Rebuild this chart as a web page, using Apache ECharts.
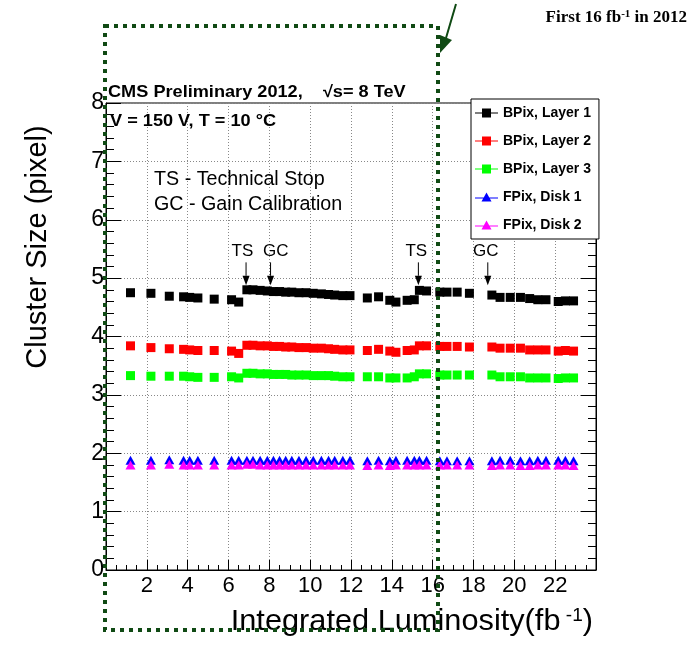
<!DOCTYPE html>
<html><head><meta charset="utf-8">
<script src="https://cdn.jsdelivr.net/npm/echarts@6/dist/echarts.min.js"></script>
<style>html,body{margin:0;padding:0;background:#fff}#c{width:691px;height:649px}</style>
</head><body><div id="c"></div>
<script>
// ---- data ----
const lumi = [1.2, 2.2, 3.1, 3.8, 4.1, 4.5, 5.3, 6.15, 6.5, 6.9, 7.2, 7.55, 7.9, 8.2, 8.5, 8.8, 9.1, 9.45, 9.8, 10.15, 10.55, 10.9, 11.2, 11.6, 11.95, 12.8, 13.35, 13.9, 14.2, 14.75, 15.1, 15.35, 15.7, 16.35, 16.7, 17.2, 17.8, 18.9, 19.3, 19.8, 20.3, 20.75, 21.15, 21.55, 22.15, 22.5, 22.9];
const bpixL1 = [4.75, 4.74, 4.69, 4.68, 4.67, 4.66, 4.64, 4.63, 4.59, 4.80, 4.80, 4.79, 4.78, 4.77, 4.77, 4.76, 4.76, 4.75, 4.75, 4.74, 4.73, 4.72, 4.71, 4.70, 4.70, 4.66, 4.68, 4.62, 4.59, 4.62, 4.63, 4.79, 4.78, 4.76, 4.76, 4.76, 4.74, 4.71, 4.67, 4.67, 4.67, 4.65, 4.63, 4.63, 4.60, 4.61, 4.61];
const bpixL2 = [3.84, 3.81, 3.79, 3.78, 3.77, 3.76, 3.76, 3.75, 3.71, 3.85, 3.85, 3.84, 3.84, 3.83, 3.83, 3.82, 3.82, 3.81, 3.81, 3.80, 3.80, 3.79, 3.78, 3.77, 3.77, 3.76, 3.78, 3.75, 3.73, 3.76, 3.77, 3.84, 3.84, 3.83, 3.83, 3.83, 3.82, 3.82, 3.80, 3.80, 3.80, 3.77, 3.77, 3.77, 3.75, 3.76, 3.75];
const bpixL3 = [3.33, 3.32, 3.32, 3.32, 3.31, 3.30, 3.30, 3.31, 3.29, 3.37, 3.37, 3.36, 3.36, 3.35, 3.35, 3.35, 3.34, 3.34, 3.34, 3.33, 3.33, 3.33, 3.32, 3.31, 3.31, 3.31, 3.31, 3.29, 3.29, 3.29, 3.31, 3.36, 3.36, 3.34, 3.34, 3.34, 3.34, 3.34, 3.31, 3.31, 3.31, 3.29, 3.29, 3.29, 3.28, 3.29, 3.29];
const fpixD1 = [1.88, 1.88, 1.89, 1.88, 1.88, 1.88, 1.88, 1.88, 1.88, 1.88, 1.88, 1.88, 1.88, 1.88, 1.88, 1.88, 1.88, 1.88, 1.88, 1.88, 1.88, 1.88, 1.88, 1.88, 1.88, 1.87, 1.88, 1.87, 1.88, 1.88, 1.88, 1.88, 1.88, 1.87, 1.87, 1.87, 1.87, 1.87, 1.88, 1.88, 1.87, 1.87, 1.88, 1.88, 1.88, 1.88, 1.87];
const fpixD2 = [1.80, 1.80, 1.81, 1.80, 1.80, 1.80, 1.80, 1.80, 1.80, 1.81, 1.81, 1.80, 1.80, 1.80, 1.80, 1.80, 1.80, 1.80, 1.80, 1.80, 1.80, 1.80, 1.80, 1.80, 1.80, 1.79, 1.80, 1.79, 1.80, 1.80, 1.80, 1.80, 1.80, 1.80, 1.80, 1.80, 1.80, 1.79, 1.80, 1.80, 1.79, 1.79, 1.80, 1.80, 1.80, 1.80, 1.79];
const seriesNames = ['BPix, Layer 1', 'BPix, Layer 2', 'BPix, Layer 3', 'FPix, Disk 1', 'FPix, Disk 2'];
const xTickLabels = [2, 4, 6, 8, 10, 12, 14, 16, 18, 20, 22];
const yTickLabels = [0, 1, 2, 3, 4, 5, 6, 7, 8];
const annotLabels = ['TS', 'GC', 'TS', 'GC'];
const annotArrowX = [6.86, 8.06, 15.3, 18.7];
const annotLabelX = [6.68, 8.31, 15.2, 18.6];

// ---- style ----
const SANS = '"Liberation Sans", Arial, Helvetica, sans-serif';
const SERIF = '"Liberation Serif", "Times New Roman", serif';
const colors = ['#000000', '#ff0000', '#00ff00', '#0000ff', '#ff00ff'];
const sqIcon = 'path://M0,4L23,4L23,5L0,5Z M7,0L16,0L16,9L7,9Z';
const triIcon = 'path://M0,5L23,5L23,6L0,6Z M11.5,0L16.5,9L6.5,9Z';
const values = [bpixL1, bpixL2, bpixL3, fpixD1, fpixD2];

const chart = echarts.init(document.getElementById('c'), null, {renderer: 'canvas'});

const series = seriesNames.map((name, i) => ({
  name,
  type: 'scatter',
  data: lumi.map((x, k) => [x, values[i][k]]),
  symbol: i < 3 ? 'rect' : 'triangle',
  symbolSize: i < 3 ? 9 : [10, 9],
  itemStyle: {color: colors[i], opacity: 1},
  emphasis: {disabled: true},
  z: 2 + i
}));

const gridLine = {show: true, lineStyle: {color: '#888', width: 1, type: [1, 2]}};

chart.setOption({
  animation: false,
  backgroundColor: '#fff',
  grid: {left: 106, top: 103, width: 490, height: 467, show: true, borderColor: '#000', borderWidth: 1, backgroundColor: 'transparent'},
  xAxis: {
    type: 'value', min: 0, max: 24, interval: 2,
    axisLine: {show: true, onZero: false, lineStyle: {color: '#000', width: 1}},
    axisTick: {show: true, inside: true, length: 10, lineStyle: {color: '#000'}},
    minorTick: {show: true, splitNumber: 4, length: 5, lineStyle: {color: '#000'}},
    splitLine: gridLine,
    axisLabel: {
      formatter: v => xTickLabels.includes(v) ? String(v) : '',
      fontSize: 22, fontFamily: SANS, color: '#000', margin: 5
    }
  },
  yAxis: [{
    type: 'value', min: 0, max: 8, interval: 1,
    axisLine: {show: true, onZero: false, lineStyle: {color: '#000', width: 1}},
    axisTick: {show: true, inside: true, length: 15, lineStyle: {color: '#000'}},
    minorTick: {show: true, splitNumber: 5, length: 8, lineStyle: {color: '#000'}},
    splitLine: gridLine,
    axisLabel: {
      formatter: v => yTickLabels.includes(v) ? String(v) : '',
      fontSize: 23, fontFamily: SANS, color: '#000', margin: 2
    }
  }, {
    type: 'value', min: 0, max: 8, interval: 1, position: 'right',
    axisLine: {show: true, onZero: false, lineStyle: {color: '#000', width: 1}},
    axisTick: {show: true, inside: true, length: 15, lineStyle: {color: '#000'}},
    minorTick: {show: true, splitNumber: 5, length: 8, lineStyle: {color: '#000'}},
    splitLine: {show: false},
    axisLabel: {show: false}
  }],
  legend: {
    orient: 'vertical', left: 471, top: 99,
    itemWidth: 23, itemHeight: 9, itemGap: 14,
    padding: [7, 8, 7, 4],
    backgroundColor: '#fff', borderColor: '#000', borderWidth: 1,
    selectedMode: false,
    textStyle: {fontFamily: SANS, fontWeight: 'bold', fontSize: 14, color: '#000', lineHeight: 14},
    data: seriesNames.map((n, i) => ({name: n, icon: i < 3 ? sqIcon : triIcon})),
    z: 10
  },
  series
});

// ---- annotations & texts ----
const g = [];
const px = (x, y) => chart.convertToPixel({xAxisIndex: 0, yAxisIndex: 0}, [x, y]);
annotLabels.forEach((lab, i) => {
  const top = px(annotArrowX[i], 5.27);
  const head = px(annotArrowX[i], 5.04);
  const tip = px(annotArrowX[i], 4.88);
  g.push({type: 'line', shape: {x1: top[0], y1: top[1], x2: head[0], y2: head[1]}, style: {stroke: '#000', lineWidth: 1}, z: 20});
  g.push({type: 'polygon', shape: {points: [[head[0] - 3.5, head[1]], [head[0] + 3.5, head[1]], [tip[0], tip[1]]]}, style: {fill: '#000'}, z: 20});
  const lp = px(annotLabelX[i], 5.46);
  g.push({type: 'text', x: lp[0], y: lp[1], style: {text: lab, font: '17px ' + SANS, fill: '#000', align: 'center', verticalAlign: 'middle'}, z: 20});
});

g.push({type: 'text', x: 108, y: 92, scaleX: 1.1, style: {text: 'CMS Preliminary 2012,    \u221As= 8 TeV', font: 'bold 16.5px ' + SANS, fill: '#000', align: 'left', verticalAlign: 'middle'}, z: 20});
g.push({type: 'text', x: 110, y: 121, scaleX: 1.1, style: {text: 'V = 150 V, T = 10 \u00B0C', font: 'bold 16.5px ' + SANS, fill: '#000', align: 'left', verticalAlign: 'middle'}, z: 20});
g.push({type: 'text', x: 154, y: 180, style: {text: 'TS - Technical Stop', font: '19.7px ' + SANS, fill: '#000', align: 'left', verticalAlign: 'middle'}, z: 20});
g.push({type: 'text', x: 154, y: 205, style: {text: 'GC - Gain Calibration', font: '19.7px ' + SANS, fill: '#000', align: 'left', verticalAlign: 'middle'}, z: 20});

// axis titles
g.push({type: 'text', x: 38, y: 247, rotation: Math.PI / 2, style: {text: 'Cluster Size (pixel)', font: '29px ' + SANS, fill: '#000', align: 'center', verticalAlign: 'middle'}, z: 20});
g.push({type: 'text', x: 593, y: 622, scaleX: 1.06, style: {
  text: '{a|Integrated Luminosity(fb}{s| -1}{a|)}',
  align: 'right', verticalAlign: 'middle',
  rich: {
    a: {fontFamily: SANS, fontSize: 29, color: '#000'},
    s: {fontFamily: SANS, fontSize: 18, color: '#000', verticalAlign: 'top', padding: [0, 0, 12, 0]}
  }
}, z: 20});

// green overlay
const G = '#104a14';
g.push({type: 'rect', shape: {x: 105, y: 26, width: 333, height: 604}, style: {fill: 'none', stroke: G, lineWidth: 4, lineDash: [4, 5]}, z: 30});
g.push({type: 'line', shape: {x1: 456, y1: 4, x2: 446, y2: 38}, style: {stroke: G, lineWidth: 2}, z: 30});
g.push({type: 'polygon', shape: {points: [[440, 35], [452, 40], [440, 53]]}, style: {fill: G}, z: 30});
g.push({type: 'text', x: 687, y: 18, style: {
  text: '{a|First 16 fb}{s|-1}{a| in 2012}',
  align: 'right', verticalAlign: 'middle',
  rich: {
    a: {fontFamily: SERIF, fontWeight: 'bold', fontSize: 17, color: '#245219'},
    s: {fontFamily: SERIF, fontWeight: 'bold', fontSize: 11, color: '#245219', padding: [0, 0, 8, 0]}
  }
}, z: 30});

chart.setOption({graphic: {elements: g}});
</script>
</body></html>
